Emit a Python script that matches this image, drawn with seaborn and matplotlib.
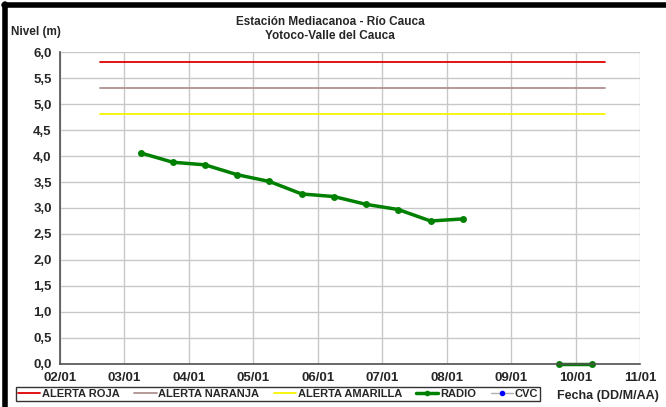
import pandas as pd
import matplotlib
matplotlib.use("Agg")
import matplotlib.pyplot as plt
import matplotlib.dates as mdates
from matplotlib.ticker import FuncFormatter
import seaborn as sns

#--------------------------------------------------------------
# 1. Data
#--------------------------------------------------------------
radio_fechas = [
    "2010-01-03 06:00", "2010-01-03 18:00", "2010-01-04 06:00", "2010-01-04 18:00",
    "2010-01-05 06:00", "2010-01-05 18:00", "2010-01-06 06:00", "2010-01-06 18:00",
    "2010-01-07 06:00", "2010-01-07 18:00", "2010-01-08 06:00",
    "2010-01-09 18:00", "2010-01-10 06:00",
]
radio_nivel = [4.06, 3.88, 3.83, 3.64, 3.51, 3.27, 3.22, 3.07, 2.97, 2.75, 2.79,
               0.0, 0.0]
radio_tramo = [1] * 11 + [2] * 2

cvc_fechas = []
cvc_nivel = []

alerta_fechas = ["2010-01-02 15:00", "2010-01-10 11:00"]
alerta_roja = 5.8
alerta_naranja = 5.3
alerta_amarilla = 4.8

x_ticks = pd.date_range("2010-01-02", "2010-01-11", freq="D")

#--------------------------------------------------------------
# 2. Build dataframes
#--------------------------------------------------------------
df_radio = pd.DataFrame({
    "fecha": pd.to_datetime(radio_fechas),
    "nivel": radio_nivel,
    "tramo": radio_tramo,
})
df_alertas = pd.DataFrame({
    "fecha": pd.to_datetime(alerta_fechas * 3),
    "nivel": [alerta_roja] * 2 + [alerta_naranja] * 2 + [alerta_amarilla] * 2,
    "alerta": ["ALERTA ROJA"] * 2 + ["ALERTA NARANJA"] * 2 + ["ALERTA AMARILLA"] * 2,
})

#--------------------------------------------------------------
# 3. Plot
#--------------------------------------------------------------
sns.set_style("white")
FAM = "Liberation Sans"
plt.rcParams["font.family"] = FAM
plt.rcParams["font.weight"] = "bold"

fig = plt.figure(figsize=(6.66, 4.07), dpi=100)
ax = fig.add_axes([0.0901, 0.1057, 0.8709, 0.7665])

colores = {"ALERTA ROJA": "#e00000", "ALERTA NARANJA": "#b09090",
           "ALERTA AMARILLA": "#f5f500"}
sns.lineplot(data=df_alertas, x="fecha", y="nivel", hue="alerta",
             palette=colores, linewidth=1.3, ax=ax, legend=False)

sns.lineplot(data=df_radio, x="fecha", y="nivel", units="tramo", estimator=None,
             color="#008000", linewidth=2.5, marker="o", markersize=5,
             markeredgewidth=0, ax=ax, legend=False, clip_on=False)

ax.plot(pd.to_datetime(cvc_fechas), cvc_nivel, color="#b0b0b0", marker="o",
        markerfacecolor="#0000ff", markeredgecolor="#0000ff", markersize=3,
        linewidth=1)

ax.set_xlim(x_ticks[0], x_ticks[-1])
ax.set_ylim(0, 6)
ax.set_xticks(x_ticks)
ax.xaxis.set_major_formatter(mdates.DateFormatter("%d/%m"))
ax.set_yticks([i * 0.5 for i in range(13)])
ax.yaxis.set_major_formatter(FuncFormatter(lambda v, p: f"{v:.1f}".replace(".", ",")))

ax.grid(True, color="#c8c8c8", linewidth=1)
ax.set_axisbelow(True)
for s in ["top", "right"]:
    ax.spines[s].set_visible(False)
for s in ["left", "bottom"]:
    ax.spines[s].set_color("#505050")
    ax.spines[s].set_linewidth(1.2)
ax.tick_params(axis="both", which="major", direction="out", length=4, width=1,
               color="#505050", labelsize=9.5, pad=2)
for lbl in ax.get_xticklabels() + ax.get_yticklabels():
    lbl.set_fontfamily(FAM)
    lbl.set_fontweight("bold")
ax.set_xlabel("")
ax.set_ylabel("")

#--------------------------------------------------------------
# 4. Texts, legend and frame
#--------------------------------------------------------------
fig.text(0.496, 0.929, "Estación Mediacanoa - Río Cauca\nYotoco-Valle del Cauca",
         ha="center", va="center", fontsize=8.5, family=FAM, weight="bold",
         linespacing=1.15)
fig.text(0.017, 0.922, "Nivel (m)", ha="left", va="center", fontsize=8.5,
         family=FAM, weight="bold")
fig.text(0.99, 0.027, "Fecha (DD/M/AA)", ha="right", va="center", fontsize=9,
         family=FAM, weight="bold")

h_roja = plt.Line2D([], [], color=colores["ALERTA ROJA"], linewidth=1.3)
h_nar = plt.Line2D([], [], color=colores["ALERTA NARANJA"], linewidth=1.3)
h_ama = plt.Line2D([], [], color=colores["ALERTA AMARILLA"], linewidth=1.3)
h_radio = plt.Line2D([], [], color="#008000", linewidth=2.5, marker="o",
                     markersize=4, markeredgewidth=0)
h_cvc = plt.Line2D([], [], color="#b0b0b0", linewidth=1, marker="o",
                   markersize=3, markerfacecolor="#0000ff", markeredgecolor="#0000ff")
leg = fig.legend([h_roja, h_nar, h_ama, h_radio, h_cvc],
                 ["ALERTA ROJA", "ALERTA NARANJA", "ALERTA AMARILLA", "RADIO", "CVC"],
                 loc="center left", bbox_to_anchor=(0.024, 0.032), ncol=5,
                 prop={"family": FAM, "size": 8, "weight": "bold"}, frameon=True,
                 fancybox=False, handlelength=2.0, handletextpad=0.15,
                 columnspacing=1.3, borderpad=0.2, borderaxespad=0)
leg.get_frame().set_edgecolor("black")
leg.get_frame().set_linewidth(1.0)

fig.add_artist(plt.Line2D([0.006, 1.0], [0.988, 0.988], color="black",
                          linewidth=4, transform=fig.transFigure))
fig.add_artist(plt.Line2D([0.008, 0.008], [0.0, 0.99], color="black",
                          linewidth=4, transform=fig.transFigure))

plt.savefig("out.png", dpi=100)
